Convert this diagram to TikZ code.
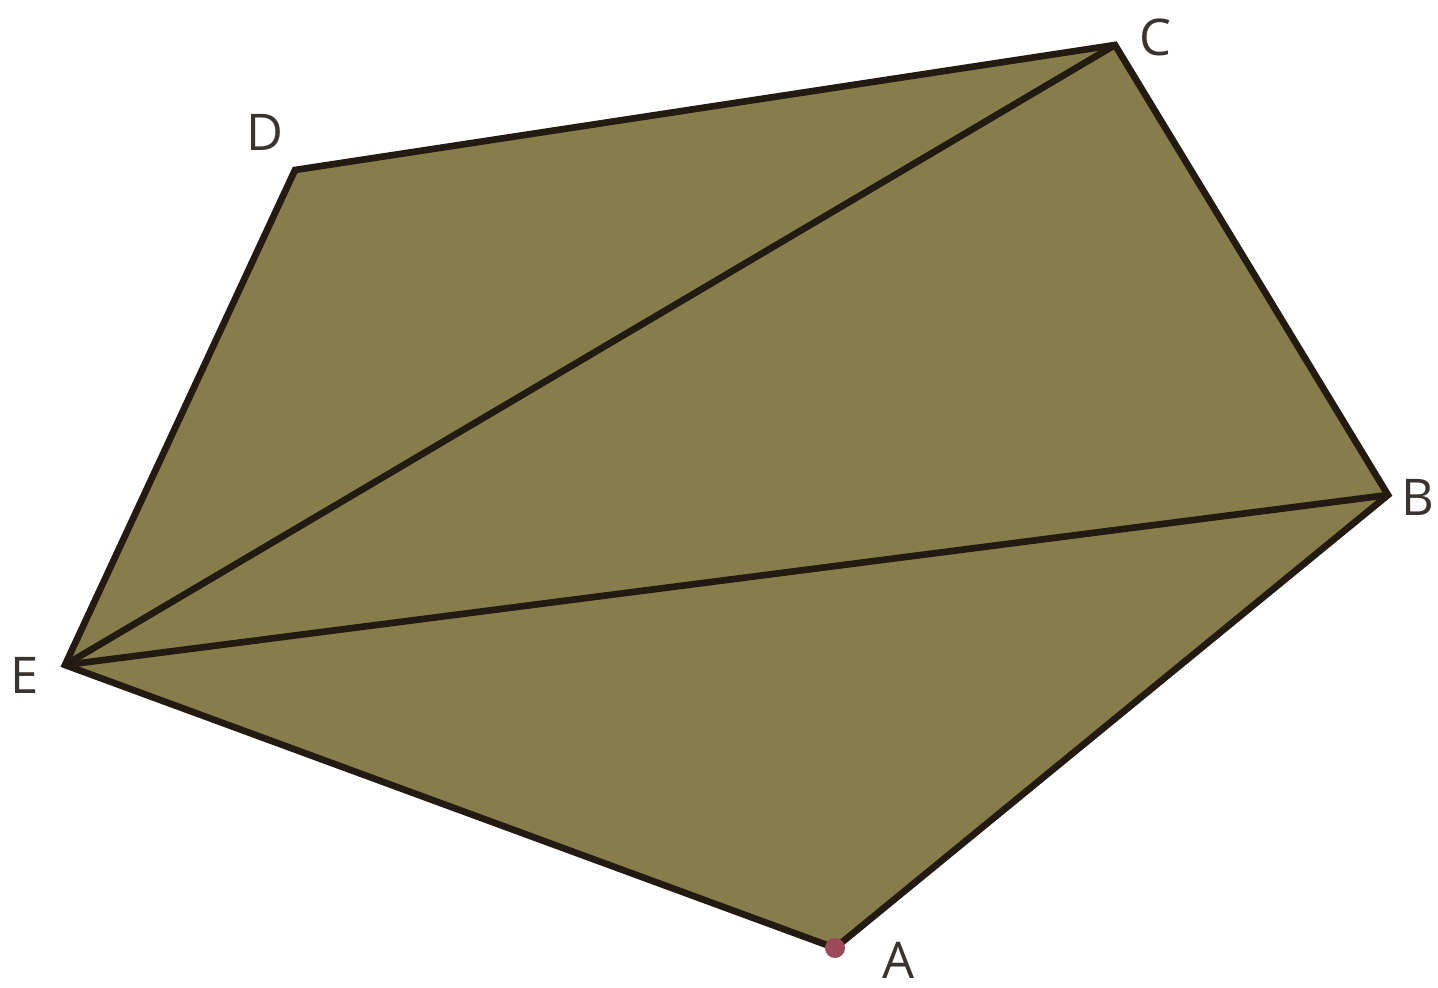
\documentclass[tikz,border=0pt]{standalone}
\usepackage{fontspec}
\setsansfont{Open Sans}
\usepackage{xcolor}
\definecolor{olive}{HTML}{877D4B}
\definecolor{edge}{HTML}{231A12}
\definecolor{dotred}{HTML}{9C4A5A}
\definecolor{ink}{HTML}{3A3430}

\begin{document}
\begin{tikzpicture}[x=1cm,y=1cm]
    \useasboundingbox (0,0) rectangle (14.38,9.87);
    \coordinate (A) at (8.35,0.39);
    \coordinate (B) at (13.88,4.92);
    \coordinate (C) at (11.15,9.42);
    \coordinate (D) at (2.95,8.17);
    \coordinate (E) at (0.65,3.22);
    \fill[olive] (A) -- (B) -- (C) -- (D) -- (E) -- cycle;
    \draw[edge,line width=1.9pt,line join=miter] (A) -- (B) -- (C) -- (D) -- (E) -- cycle;
    \draw[edge,line width=1.9pt] (E) -- (C);
    \draw[edge,line width=1.9pt] (E) -- (B);
    \fill[dotred] (A) circle (0.1);
    \node[text=ink,font=\sffamily\Large] (labA) at (8.98,0.27) {A};
    \node[text=ink,font=\sffamily\Large] (labB) at (14.18,4.90) {B};
    \node[text=ink,font=\sffamily\Large] (labC) at (11.55,9.50) {C};
    \node[text=ink,font=\sffamily\Large] (labD) at (2.65,8.55) {D};
    \node[text=ink,font=\sffamily\Large] (labE) at (0.25,3.12) {E};
  \end{tikzpicture}
\end{document}
